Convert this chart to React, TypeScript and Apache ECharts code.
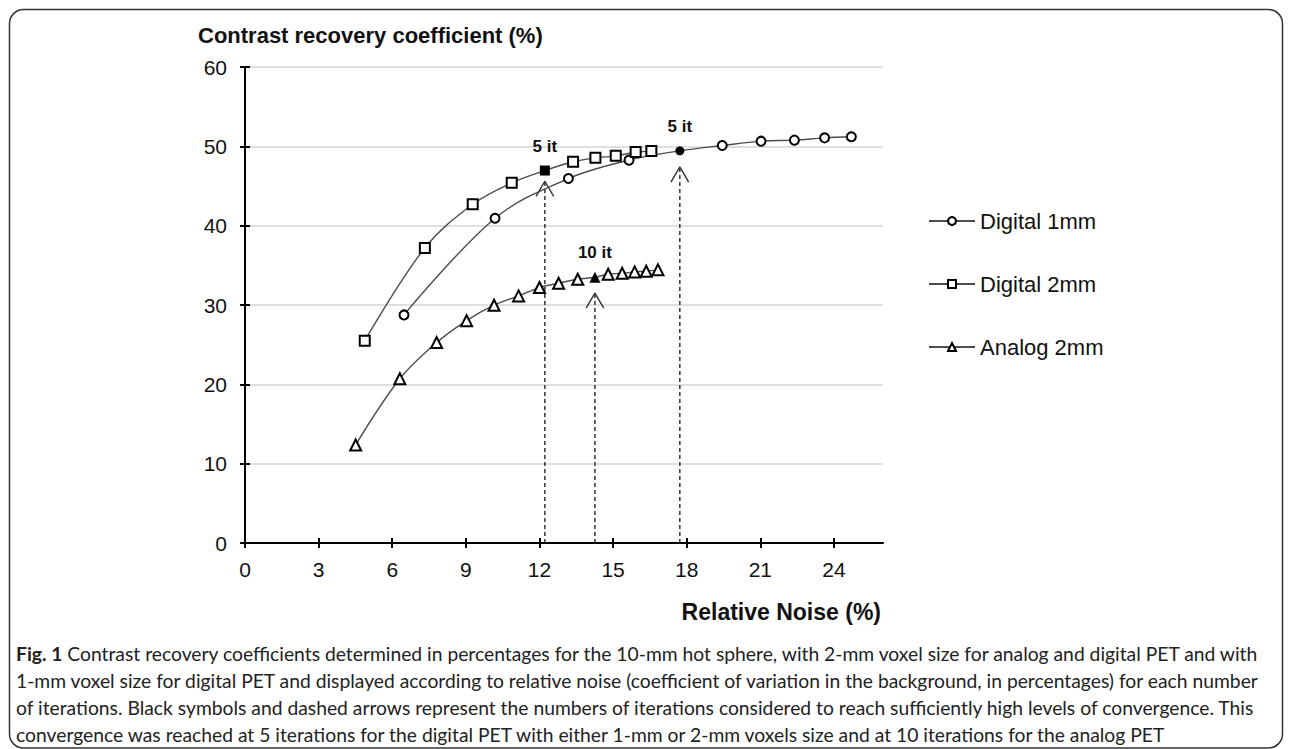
import React, { useEffect, useRef } from "react";
import * as echarts from "echarts";

// ---- data ----
const digital1mmNoise = [6.48, 10.19, 13.18, 15.65, 17.72, 19.45, 21.03, 22.39, 23.62, 24.71];
const digital1mmCRC = [28.75, 40.94, 45.94, 48.26, 49.43, 50.1, 50.65, 50.78, 51.07, 51.2];
const digital2mmNoise = [4.88, 7.33, 9.28, 10.87, 12.22, 13.37, 14.28, 15.11, 15.92, 16.56];
const digital2mmCRC = [25.5, 37.2, 42.7, 45.4, 46.95, 48.05, 48.55, 48.8, 49.27, 49.4];
const analog2mmNoise = [4.51, 6.31, 7.81, 9.03, 10.15, 11.15, 12.0, 12.78, 13.56, 14.26, 14.8, 15.37, 15.88, 16.35, 16.83];
const analog2mmCRC = [12.36, 20.7, 25.26, 28.03, 29.97, 31.15, 32.2, 32.74, 33.25, 33.5, 33.88, 34.0, 34.17, 34.26, 34.43];

const seriesNames = ["Digital 1mm", "Digital 2mm", "Analog 2mm"];
// index of the converged iteration (black symbol) in each series, and its label
const convergedIndex = [4, 4, 9];
const convergedLabels = ["5 it", "5 it", "10 it"];
// tips of the dashed arrows (CRC value where each arrow ends)
const arrowTips = [47.4, 45.6, 31.5];

const xTickValues = [0, 3, 6, 9, 12, 15, 18, 21, 24];
const yTickValues = [0, 10, 20, 30, 40, 50, 60];

const yTitle = "Contrast recovery coefficient (%)";
const xTitle = "Relative Noise (%)";
const captionLines = [
  "{b|Fig. 1} Contrast recovery coefficients determined in percentages for the 10-mm hot sphere, with 2-mm voxel size for analog and digital PET and with",
  "1-mm voxel size for digital PET and displayed according to relative noise (coefficient of variation in the background, in percentages) for each number",
  "of iterations. Black symbols and dashed arrows represent the numbers of iterations considered to reach sufficiently high levels of convergence. This",
  "convergence was reached at 5 iterations for the digital PET with either 1-mm or 2-mm voxels size and at 10 iterations for the analog PET",
];

const FONT = "'Liberation Sans', Arial, sans-serif";
const CAPTION_FONT = "Lato, 'Open Sans', sans-serif";

export default function App() {
  const ref = useRef<HTMLDivElement>(null);

  useEffect(() => {
    if (!ref.current) return;
    const chart = echarts.init(ref.current, undefined, { renderer: "svg" });

    const xs = [digital1mmNoise, digital2mmNoise, analog2mmNoise];
    const ys = [digital1mmCRC, digital2mmCRC, analog2mmCRC];
    const symbols = ["emptyCircle", "emptyRect", "emptyTriangle"];
    const filledSymbols = ["circle", "rect", "triangle"];
    const sizes = [9, 10, 11];

    const mainSeries: any[] = xs.map((xv, s) => ({
      name: seriesNames[s],
      type: "line",
      smooth: 0.35,
      symbol: symbols[s],
      symbolSize: sizes[s],
      z: 5,
      itemStyle: { color: "#000", borderWidth: 1.7 },
      lineStyle: { color: "#4d4d4d", width: 1.4 },
      data: xv.map((x, i) => {
        if (i === convergedIndex[s]) {
          return {
            value: [x, ys[s][i]],
            symbol: filledSymbols[s],
            itemStyle: { color: "#000" },
            label: {
              show: true,
              position: "top",
              distance: 11,
              formatter: convergedLabels[s],
              fontFamily: FONT,
              fontWeight: "bold",
              fontSize: 17,
              color: "#111",
            },
          };
        }
        return [x, ys[s][i]];
      }),
    }));

    const dashSeries: any[] = [];
    const chevronSeries: any[] = [];
    const dx = 0.36; // chevron half width (x units)
    const dy = 1.9; // chevron height (y units)
    xs.forEach((xv, s) => {
      const ax = xv[convergedIndex[s]];
      const tip = arrowTips[s];
      dashSeries.push({
        name: "arrow-dash-" + s,
        type: "line",
        silent: true,
        symbol: "none",
        z: 3,
        lineStyle: { color: "#333", width: 1.5, type: [4, 3] },
        data: [
          [ax, 0],
          [ax, tip],
        ],
      });
      chevronSeries.push({
        name: "arrow-head-" + s,
        type: "line",
        silent: true,
        symbol: "none",
        z: 3,
        lineStyle: { color: "#333", width: 1.4 },
        data: [
          [ax - dx, tip - dy],
          [ax, tip],
          [ax + dx, tip - dy],
        ],
      });
    });

    const option: any = {
      animation: false,
      backgroundColor: "#fff",
      grid: { left: 245, right: 407, top: 67, bottom: 206, containLabel: false },
      legend: {
        data: seriesNames,
        orient: "vertical",
        left: 923,
        top: 205,
        itemWidth: 46,
        itemHeight: 10,
        itemGap: 41,
        textStyle: { fontFamily: FONT, fontSize: 22, color: "#111" },
        selectedMode: false,
      },
      xAxis: [
        {
          type: "value",
          min: 0,
          max: 26,
          interval: 3,
          axisLine: { show: true, lineStyle: { color: "#000", width: 2 } },
          axisTick: { show: true, inside: false, length: 5, lineStyle: { color: "#000", width: 2 }, customValues: xTickValues },
          axisLabel: { fontFamily: FONT, fontSize: 21, color: "#111", margin: 16, customValues: xTickValues },
          splitLine: { show: false },
        },
        {
          type: "value",
          min: 0,
          max: 26,
          interval: 3,
          position: "bottom",
          axisLine: { show: false },
          axisTick: { show: true, inside: true, length: 5, lineStyle: { color: "#000", width: 2 }, customValues: xTickValues },
          axisLabel: { show: false },
          splitLine: { show: false },
        },
      ],
      yAxis: [
        {
          type: "value",
          min: 0,
          max: 60,
          interval: 10,
          axisLine: { show: true, lineStyle: { color: "#000", width: 2 } },
          axisTick: { show: true, inside: false, length: 5, lineStyle: { color: "#000", width: 2 }, customValues: yTickValues },
          axisLabel: { fontFamily: FONT, fontSize: 21, color: "#111", margin: 18, customValues: yTickValues },
          splitLine: { show: true, lineStyle: { color: "#d4d4d4", width: 1.5 } },
        },
        {
          type: "value",
          min: 0,
          max: 60,
          interval: 10,
          position: "left",
          axisLine: { show: false },
          axisTick: { show: true, inside: true, length: 5, lineStyle: { color: "#000", width: 2 }, customValues: yTickValues },
          axisLabel: { show: false },
          splitLine: { show: false },
        },
      ],
      series: [...dashSeries, ...chevronSeries, ...mainSeries],
      graphic: [
        {
          type: "rect",
          silent: true,
          shape: { x: 9.5, y: 9.5, width: 1273, height: 738.5, r: 14 },
          style: { fill: "none", stroke: "#333", lineWidth: 1.5 },
        },
        {
          type: "text",
          silent: true,
          x: 198,
          y: 35,
          style: {
            text: yTitle,
            fontFamily: FONT,
            fontWeight: "bold",
            fontSize: 22,
            fill: "#111",
            align: "left",
            verticalAlign: "middle",
          },
        },
        {
          type: "text",
          silent: true,
          x: 881,
          y: 612,
          style: {
            text: xTitle,
            fontFamily: FONT,
            fontWeight: "bold",
            fontSize: 23,
            fill: "#111",
            align: "right",
            verticalAlign: "middle",
          },
        },
        {
          type: "text",
          silent: true,
          x: 16,
          y: 640,
          style: {
            text: captionLines.join("\n"),
            fontFamily: CAPTION_FONT,
            fontSize: 19.3,
            lineHeight: 27,
            fill: "#222",
            align: "left",
            verticalAlign: "top",
            rich: {
              b: { fontFamily: CAPTION_FONT, fontSize: 19.3, fontWeight: "bold", lineHeight: 27, fill: "#222" },
            },
          },
        },
      ],
    };

    chart.setOption(option);
    return () => chart.dispose();
  }, []);

  return (
    <div
      ref={ref}
      style={{ position: "absolute", left: 0, top: 0, width: 1290, height: 749, background: "#fff" }}
    />
  );
}
